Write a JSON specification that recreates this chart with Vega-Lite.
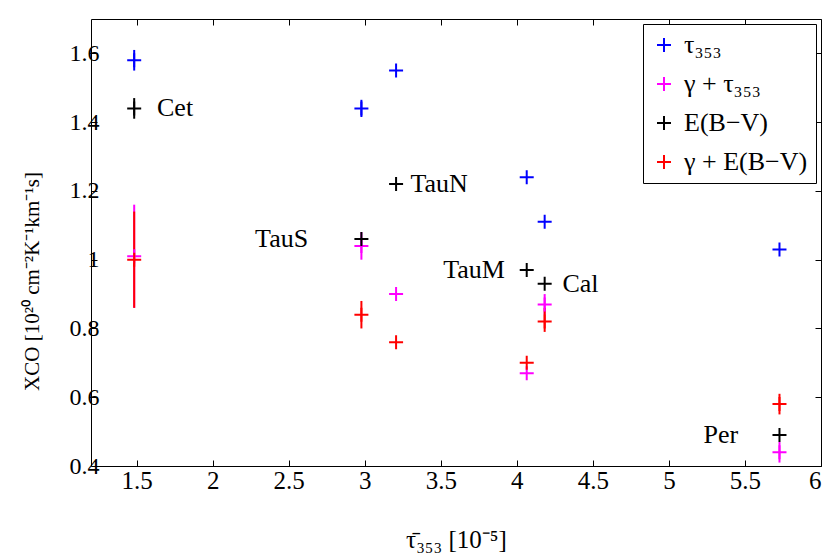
{
  "$schema": "https://vega.github.io/schema/vega-lite/v6.json",
  "width": 730,
  "height": 447,
  "autosize": {"type": "none"},
  "padding": {"left": 91, "top": 19, "right": 9, "bottom": 89},
  "background": "white",
  "config": {
    "font": "Liberation Serif",
    "view": {"stroke": "#000", "strokeWidth": 1}
  },
  "datasets": {
    "points": [
      {"region": "Cet", "tau": 1.484, "series": "τ₃₅₃", "xco": 1.58},
      {"region": "TauS", "tau": 2.978, "series": "τ₃₅₃", "xco": 1.44},
      {"region": "TauN", "tau": 3.206, "series": "τ₃₅₃", "xco": 1.55},
      {"region": "TauM", "tau": 4.065, "series": "τ₃₅₃", "xco": 1.24},
      {"region": "Cal", "tau": 4.183, "series": "τ₃₅₃", "xco": 1.11},
      {"region": "Per", "tau": 5.727, "series": "τ₃₅₃", "xco": 1.03},
      {"region": "Cet", "tau": 1.484, "series": "γ + τ₃₅₃", "xco": 1.01},
      {"region": "TauS", "tau": 2.978, "series": "γ + τ₃₅₃", "xco": 1.04},
      {"region": "TauN", "tau": 3.206, "series": "γ + τ₃₅₃", "xco": 0.90},
      {"region": "TauM", "tau": 4.065, "series": "γ + τ₃₅₃", "xco": 0.67},
      {"region": "Cal", "tau": 4.183, "series": "γ + τ₃₅₃", "xco": 0.87},
      {"region": "Per", "tau": 5.727, "series": "γ + τ₃₅₃", "xco": 0.44},
      {"region": "Cet", "tau": 1.484, "series": "E(B−V)", "xco": 1.44},
      {"region": "TauS", "tau": 2.978, "series": "E(B−V)", "xco": 1.06},
      {"region": "TauN", "tau": 3.206, "series": "E(B−V)", "xco": 1.22},
      {"region": "TauM", "tau": 4.065, "series": "E(B−V)", "xco": 0.97},
      {"region": "Cal", "tau": 4.183, "series": "E(B−V)", "xco": 0.93},
      {"region": "Per", "tau": 5.727, "series": "E(B−V)", "xco": 0.49},
      {"region": "Cet", "tau": 1.484, "series": "γ + E(B−V)", "xco": 1.00},
      {"region": "TauS", "tau": 2.978, "series": "γ + E(B−V)", "xco": 0.84},
      {"region": "TauN", "tau": 3.206, "series": "γ + E(B−V)", "xco": 0.76},
      {"region": "TauM", "tau": 4.065, "series": "γ + E(B−V)", "xco": 0.70},
      {"region": "Cal", "tau": 4.183, "series": "γ + E(B−V)", "xco": 0.82},
      {"region": "Per", "tau": 5.727, "series": "γ + E(B−V)", "xco": 0.58}
    ],
    "errors": [
      {"region": "Cet", "tau": 1.484, "series": "τ₃₅₃", "lo": 1.55, "hi": 1.61},
      {"region": "TauS", "tau": 2.978, "series": "τ₃₅₃", "lo": 1.415, "hi": 1.465},
      {"region": "Cet", "tau": 1.484, "series": "γ + τ₃₅₃", "lo": 0.86, "hi": 1.16},
      {"region": "TauS", "tau": 2.978, "series": "γ + τ₃₅₃", "lo": 1.0, "hi": 1.08},
      {"region": "Cal", "tau": 4.183, "series": "γ + τ₃₅₃", "lo": 0.84, "hi": 0.9},
      {"region": "Per", "tau": 5.727, "series": "γ + τ₃₅₃", "lo": 0.41, "hi": 0.47},
      {"region": "Cet", "tau": 1.484, "series": "E(B−V)", "lo": 1.41, "hi": 1.47},
      {"region": "Cet", "tau": 1.484, "series": "γ + E(B−V)", "lo": 0.86, "hi": 1.14},
      {"region": "TauS", "tau": 2.978, "series": "γ + E(B−V)", "lo": 0.8, "hi": 0.88},
      {"region": "Cal", "tau": 4.183, "series": "γ + E(B−V)", "lo": 0.79, "hi": 0.86},
      {"region": "Per", "tau": 5.727, "series": "γ + E(B−V)", "lo": 0.55, "hi": 0.61}
    ],
    "labels": [
      {"region": "Cet", "tau": 1.634, "xco": 1.44},
      {"region": "TauS", "tau": 2.279, "xco": 1.06},
      {"region": "TauN", "tau": 3.3, "xco": 1.22},
      {"region": "TauM", "tau": 3.516, "xco": 0.97},
      {"region": "Cal", "tau": 4.3, "xco": 0.93},
      {"region": "Per", "tau": 5.228, "xco": 0.49}
    ]
  },
  "layer": [
    {
      "data": {"name": "errors"},
      "mark": {"type": "rule", "strokeWidth": 2},
      "encoding": {
        "x": {
          "field": "tau",
          "type": "quantitative",
          "scale": {"domain": [1.2, 6], "nice": false, "zero": false},
          "axis": {
            "orient": "bottom",
            "values": [1.5, 2, 2.5, 3, 3.5, 4, 4.5, 5, 5.5, 6],
            "format": "~g",
            "domain": false,
            "grid": false,
            "tickColor": "#000",
            "tickSize": -6,
            "labelFont": "Liberation Serif",
            "labelFontSize": 25,
            "labelColor": "#000",
            "labelPadding": 8,
            "title": "τ̄₃₅₃ [10⁻⁵]",
            "titleFont": "Liberation Serif",
            "titleFontSize": 25,
            "titleFontWeight": "normal",
            "titleColor": "#000",
            "titlePadding": 34
          }
        },
        "y": {
          "field": "lo",
          "type": "quantitative",
          "scale": {"domain": [0.4, 1.7], "nice": false, "zero": false},
          "axis": {
            "orient": "left",
            "values": [0.4, 0.6, 0.8, 1, 1.2, 1.4, 1.6],
            "format": "~g",
            "domain": false,
            "grid": false,
            "tickColor": "#000",
            "tickSize": -6,
            "labelFont": "Liberation Serif",
            "labelFontSize": 24,
            "labelColor": "#000",
            "labelPadding": -2,
            "title": "XCO [10²⁰ cm⁻²K⁻¹km⁻¹s]",
            "titleFont": "Liberation Serif",
            "titleFontSize": 21,
            "titleFontWeight": "normal",
            "titleColor": "#000",
            "titlePadding": 27,
            "titleY": 262
          }
        },
        "y2": {"field": "hi"},
        "color": {"field": "series", "type": "nominal", "legend": null}
      }
    },
    {
      "data": {"name": "points"},
      "mark": {
        "type": "point",
        "shape": "M-1,0H1M0,-1V1",
        "filled": false,
        "size": 196,
        "strokeWidth": 2,
        "opacity": 1
      },
      "encoding": {
        "x": {
          "field": "tau",
          "type": "quantitative",
          "axis": {
            "orient": "top",
            "values": [1.5, 2, 2.5, 3, 3.5, 4, 4.5, 5, 5.5, 6],
            "labels": false,
            "domain": false,
            "grid": false,
            "tickColor": "#000",
            "tickSize": -6,
            "title": null
          }
        },
        "y": {
          "field": "xco",
          "type": "quantitative",
          "axis": {
            "orient": "right",
            "values": [0.4, 0.6, 0.8, 1, 1.2, 1.4, 1.6],
            "labels": false,
            "domain": false,
            "grid": false,
            "tickColor": "#000",
            "tickSize": -6,
            "title": null
          }
        },
        "color": {
          "field": "series",
          "type": "nominal",
          "sort": null,
          "scale": {
            "domain": ["τ₃₅₃", "γ + τ₃₅₃", "E(B−V)", "γ + E(B−V)"],
            "range": ["#0000ff", "#ff00ff", "#000000", "#ff0000"]
          },
          "legend": {
            "title": null,
            "orient": "top-right",
            "offset": 5,
            "padding": 8,
            "strokeColor": "#000",
            "fillColor": "#fff",
            "symbolType": "M-1,0H1M0,-1V1",
            "symbolSize": 196,
            "symbolStrokeWidth": 2,
            "labelFont": "Liberation Serif",
            "labelFontSize": 26,
            "labelColor": "#000",
            "labelLimit": 300,
            "labelOffset": 7,
            "rowPadding": 13
          }
        }
      }
    },
    {
      "data": {"name": "labels"},
      "mark": {"type": "text", "align": "left", "baseline": "middle", "fontSize": 26, "font": "Liberation Serif", "color": "#000"},
      "encoding": {
        "x": {"field": "tau", "type": "quantitative", "axis": null},
        "y": {"field": "xco", "type": "quantitative", "axis": null},
        "text": {"field": "region"}
      }
    }
  ],
  "resolve": {
    "axis": {"x": "independent", "y": "independent"},
    "legend": {"color": "independent"}
  }
}
